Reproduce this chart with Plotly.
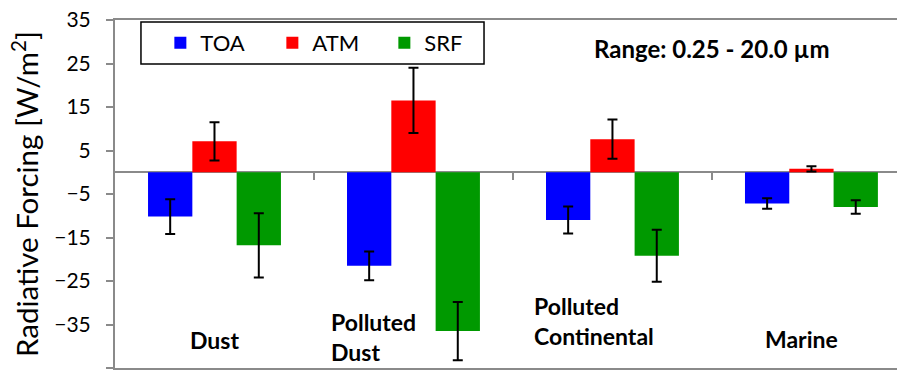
import plotly.graph_objects as go

# Aerosol types and radiative forcing (W/m^2) with uncertainties
categories = ["Dust", "Polluted Dust", "Polluted Continental", "Marine"]
series_names = ["TOA", "ATM", "SRF"]
toa = [-10.2, -21.5, -11.0, -7.2]
toa_err = [4.0, 3.3, 3.1, 1.2]
atm = [7.1, 16.5, 7.6, 0.8]
atm_err = [4.4, 7.5, 4.5, 0.6]
srf = [-16.8, -36.5, -19.2, -8.0]
srf_err = [7.4, 6.7, 6.0, 1.55]
y_ticks = [-45, -35, -25, -15, -5, 5, 15, 25, 35]

colors = ["#0000FF", "#FF0000", "#009900"]
FONT = "Lato"
GRAY = "#8a8a8a"

Y_MIN, Y_MAX = -45, 35
X_MIN, X_MAX = -0.5, 3.43
DOMAIN_Y = (0.0, 1.0)

fig = go.Figure()
for name, vals, errs, col in zip(series_names, [toa, atm, srf],
                                 [toa_err, atm_err, srf_err], colors):
    fig.add_trace(go.Bar(
        name=name, x=categories, y=vals, marker=dict(color=col, line=dict(width=0)),
        error_y=dict(type="data", array=errs, visible=True,
                     color="black", thickness=2, width=5),
    ))

# Category separators drawn on a second x-axis that sits on the zero line
zero_pos = DOMAIN_Y[0] + (0 - Y_MIN) / (Y_MAX - Y_MIN) * (DOMAIN_Y[1] - DOMAIN_Y[0])
boundaries = [i + 0.5 for i in range(len(categories) - 1)]

fig.update_layout(
    width=897, height=375,
    margin=dict(l=115, r=0, t=20, b=7),
    paper_bgcolor="white", plot_bgcolor="white",
    barmode="group", bargap=0.332, bargroupgap=0,
    font=dict(family=FONT, color="black"),
    xaxis=dict(type="category", range=[X_MIN, X_MAX], showticklabels=False,
               ticks="", showline=True, mirror=True, linecolor=GRAY, linewidth=2,
               showgrid=False, zeroline=False),
    xaxis2=dict(overlaying="x", anchor="free", position=zero_pos, side="bottom",
                range=[X_MIN, X_MAX], tickvals=boundaries, showticklabels=False,
                ticks="outside", ticklen=7, tickwidth=2, tickcolor=GRAY,
                showline=False, showgrid=False, zeroline=False),
    yaxis=dict(range=[Y_MIN, Y_MAX], domain=list(DOMAIN_Y), tickvals=y_ticks,
               ticks="outside", ticklen=7, tickwidth=2, tickcolor=GRAY,
               showline=True, linecolor=GRAY, linewidth=2,
               showgrid=False, zeroline=True, zerolinecolor=GRAY, zerolinewidth=2,
               tickfont=dict(family=FONT, size=21), ticklabelstandoff=11,
               title=dict(text="Radiative Forcing [W/m<sup>2</sup>]",
                          font=dict(family=FONT, size=29.5), standoff=7)),
    legend=dict(orientation="h", x=0.058, y=0.934, xanchor="left", yanchor="middle",
                font=dict(family=FONT, size=22), entrywidth=67,
                bgcolor="rgba(0,0,0,0)", borderwidth=0),
    showlegend=True,
)

# Invisible trace to activate the tick axis
fig.add_trace(go.Scatter(x=[X_MIN, X_MAX], y=[0, 0], xaxis="x2", mode="lines",
                         line=dict(width=0), hoverinfo="skip", showlegend=False))

# Legend frame
fig.add_shape(type="rect", xref="paper", yref="paper",
              x0=0.0332, x1=0.4719, y0=0.8736, y1=0.9943,
              line=dict(color="black", width=1.5), fillcolor="rgba(0,0,0,0)")

label_font = dict(family=FONT, size=23, weight="bold", color="black")
labels = [
    dict(text="Dust", x=0.0, y=-38.6, xanchor="center"),
    dict(text="Polluted<br>Dust", x=0.575, y=-37.9, xanchor="left"),
    dict(text="Polluted<br>Continental", x=1.595, y=-34.3, xanchor="left"),
    dict(text="Marine", x=2.952, y=-38.3, xanchor="center"),
]
for lab in labels:
    fig.add_annotation(text=lab["text"], x=lab["x"], y=lab["y"], xref="x", yref="y",
                       xanchor=lab["xanchor"], yanchor="middle", align="left",
                       showarrow=False, font=label_font)

fig.add_annotation(text="Range: 0.25 - 20.0 µm", xref="paper", yref="paper",
                   x=0.763, y=0.9195, xanchor="center", yanchor="middle",
                   showarrow=False, font=dict(family=FONT, size=24, weight="bold",
                                              color="black"))

fig.write_html("out.html")
